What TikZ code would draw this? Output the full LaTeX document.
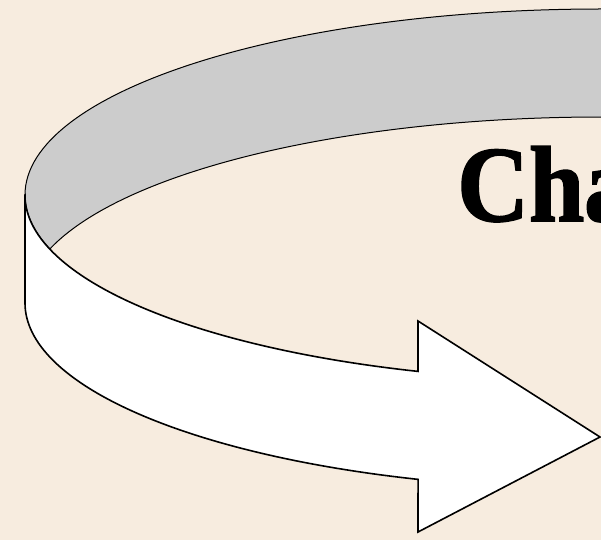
\documentclass[tikz,border=0pt]{standalone}
\usepackage{fontspec}
\newfontfamily\cyclefont[FakeStretch=0.92, FakeBold=1.5]{Liberation Serif}
\usetikzlibrary{positioning}
\definecolor{paper}{HTML}{F7ECDF}
\definecolor{bandgray}{HTML}{CCCCCC}
\definecolor{dark}{HTML}{000000}
\tikzset{
  backband/.style={draw=dark, line width=1pt, fill=bandgray},
  frontband/.style={draw=dark, line width=1.6pt, fill=white, line join=miter},
  title/.style={font=\cyclefont\bfseries\fontsize{108}{112}\selectfont, inner sep=0pt, anchor=base west},
  ring/.style={x radius=576, y radius=186}
}

\begin{document}
\begin{tikzpicture}[x=1pt, y=-1pt]
  \fill[paper] (0,0) rectangle (601,540);
  \useasboundingbox (0,0) rectangle (601,540);
  \clip (0,0) rectangle (601,540);

  % inside of the ribbon, behind
  \draw[backband] (25,195) arc[ring, start angle=180, end angle=300]
    -- ++(0,108) arc[ring, start angle=300, end angle=196.87]
    arc[ring, start angle=163.13, end angle=180] -- cycle;

  % front of the ribbon with the arrow head
  \coordinate (bandtop) at (25,195);
  \coordinate (bandbot) at (25,303);
  \coordinate (notchlow) at (418,479.4);
  \coordinate (barblow) at (418,532);
  \coordinate (tip) at (600,437);
  \coordinate (barbup) at (418,321);
  \coordinate (notchup) at (418,371.4);
  \draw[frontband] (bandtop) -- (bandbot)
    arc[ring, start angle=180, end angle=108.52]
    -- (barblow) -- (tip) -- (barbup) -- (notchup)
    arc[ring, start angle=108.52, end angle=180] -- cycle;

  \node[title] (cha) at (457,221) {Cha};
\end{tikzpicture}
\end{document}
